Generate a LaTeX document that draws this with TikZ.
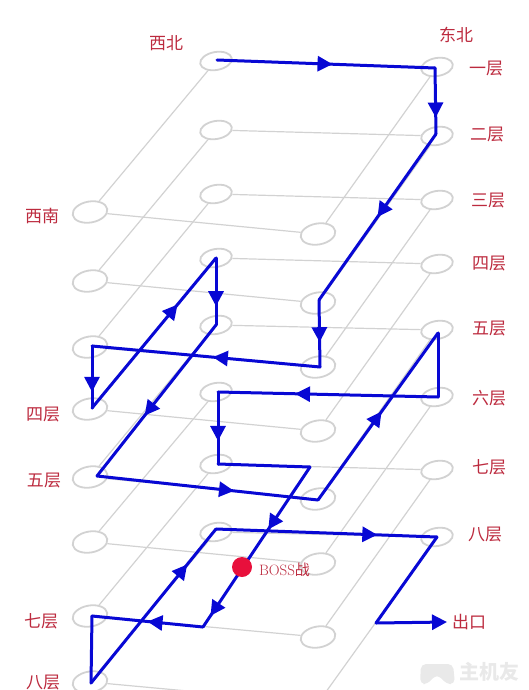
\documentclass[tikz,border=0pt]{standalone}
\usepackage{fontspec}
\newfontfamily\cjk{Noto Sans CJK SC}
\usetikzlibrary{arrows.meta,decorations.markings,shapes.geometric}
\definecolor{gridgray}{HTML}{D2D2D2}
\definecolor{routeblue}{HTML}{0808D4}
\definecolor{labelred}{HTML}{BC2A3E}
\definecolor{markgray}{HTML}{E9E9E9}
\tikzset{
  room/.style={draw=gridgray,line width=1.8pt,fill=white,ellipse,rotate=10,inner sep=0pt,minimum width=#1},
  room/.default=35pt,
  corridor/.style={draw=gridgray,line width=1.2pt},
  route/.style={draw=routeblue,line width=3pt,line cap=round},
  flow/.style={postaction={decorate,decoration={markings,
    mark=at position #1 with {\arrow{Triangle[length=15pt,width=15pt]}}}}},
  floorname/.style={text=labelred,font=\cjk\fontsize{17}{19}\selectfont,inner sep=0pt},
}
\begin{document}
\begin{tikzpicture}[x=1pt,y=-1pt]
  \useasboundingbox (0,0) rectangle (529,690);
  % eight floors, each with four rooms and four corridors
  \foreach \f/\nwy/\ney/\swy/\sey in {1/61/67/212/234,2/130/136/281/303,3/194/200/347/367,4/258/264/409/431,
    5/325/330/477/499,6/392/397/542/564,7/464/470/616/637,8/532/537/682/703} {
    \node[room=32pt,minimum height=18pt] (nw\f) at (216,\nwy) {};
    \node[room=32pt,minimum height=18pt] (ne\f) at (437,\ney) {};
    \node[room,minimum height=21pt] (sw\f) at (90,\swy) {};
    \node[room,minimum height=21pt] (se\f) at (318,\sey) {};
    \draw[corridor] (nw\f) -- (ne\f);
    \draw[corridor] (nw\f) -- (sw\f);
    \draw[corridor] (sw\f) -- (se\f);
    \draw[corridor] (ne\f) -- (se\f);
  }
  % route corners, from the start to the exit
  \coordinate (r1) at (217,60);
  \coordinate (r2) at (435,68);
  \coordinate (r3) at (436,134);
  \coordinate (r4) at (319,300);
  \coordinate (r5) at (320,367);
  \coordinate (r6) at (92,346);
  \coordinate (r7) at (92,408);
  \coordinate (r8) at (216,258);
  \coordinate (r9) at (216,325);
  \coordinate (r10) at (97,476);
  \coordinate (r11) at (318,500);
  \coordinate (r12) at (438,333);
  \coordinate (r13) at (438,397);
  \coordinate (r14) at (218,392);
  \coordinate (r15) at (218,464);
  \coordinate (r16) at (310,467);
  \coordinate (r17) at (203,627);
  \coordinate (r18) at (92,616);
  \coordinate (r19) at (91,683);
  \coordinate (r20) at (216,529);
  \coordinate (r21) at (437,537);
  \coordinate (r22) at (376,623);
  \coordinate (r23) at (447,622);
  % route legs with their arrowheads
  \foreach \a/\b/\p in {r1/r2/0.53,r2/r3/0.75,r3/r4/0.5,r4/r5/0.63,r5/r6/0.47,r6/r7/0.74,r7/r8/0.69,
    r8/r9/0.72,r9/r10/0.6,r10/r11/0.62,r11/r12/0.53,r13/r14/0.65,r14/r15/0.68,r17/r18/0.5,
    r19/r20/0.77,r20/r21/0.73}
    \draw[route,flow=\p] (\a) -- (\b);
  \draw[route] (r12) -- (r13);
  \draw[route] (r15) -- (r16);
  \draw[route,flow=0.39,flow=0.93] (r16) -- (r17);
  \draw[route] (r18) -- (r19);
  \draw[route] (r21) -- (r22);
  \draw[route,-{Triangle[length=15pt,width=15pt]}] (r22) -- (r23);
  % boss marker
  \node[circle,fill={rgb,255:red,232;green,16;blue,60},inner sep=0pt,minimum size=20pt] (boss) at (242,567) {};
  \node[text=labelred,inner sep=0pt,font=\fontsize{15}{17}\selectfont] (bossname) at (284.5,570) {BOSS{\cjk 战}};
  % directions and floor names
  \node[floorname] (dirnw) at (166,43) {西北};
  \node[floorname] (dirne) at (456,35) {东北};
  \node[floorname] (dirsw) at (42,216) {西南};
  \node[floorname] (lab1) at (486,69) {一层};
  \node[floorname] (lab2) at (487,135) {二层};
  \node[floorname] (lab3) at (488,201) {三层};
  \node[floorname] (lab4) at (489,264) {四层};
  \node[floorname] (lab5) at (489,329) {五层};
  \node[floorname] (lab6) at (489,398) {六层};
  \node[floorname] (lab7) at (489,467) {七层};
  \node[floorname] (lab8) at (485,535) {八层};
  \node[floorname] (left4) at (43,415) {四层};
  \node[floorname] (left5) at (44,481) {五层};
  \node[floorname] (left7) at (41,621) {七层};
  \node[floorname] (left8) at (43,683) {八层};
  \node[floorname] (exit) at (469,622) {出口};
  % watermark
  \fill[markgray,rounded corners=5pt] (421,664) -- (453,664) -- (455,684) -- (446,684) -- (440,676) -- (434,676) -- (428,684) -- (420,684) -- cycle;
  \node[text=markgray,inner sep=0pt,font=\cjk\bfseries\fontsize{20}{22}\selectfont] (brand) at (489,672) {主机友};
\end{tikzpicture}
\end{document}
